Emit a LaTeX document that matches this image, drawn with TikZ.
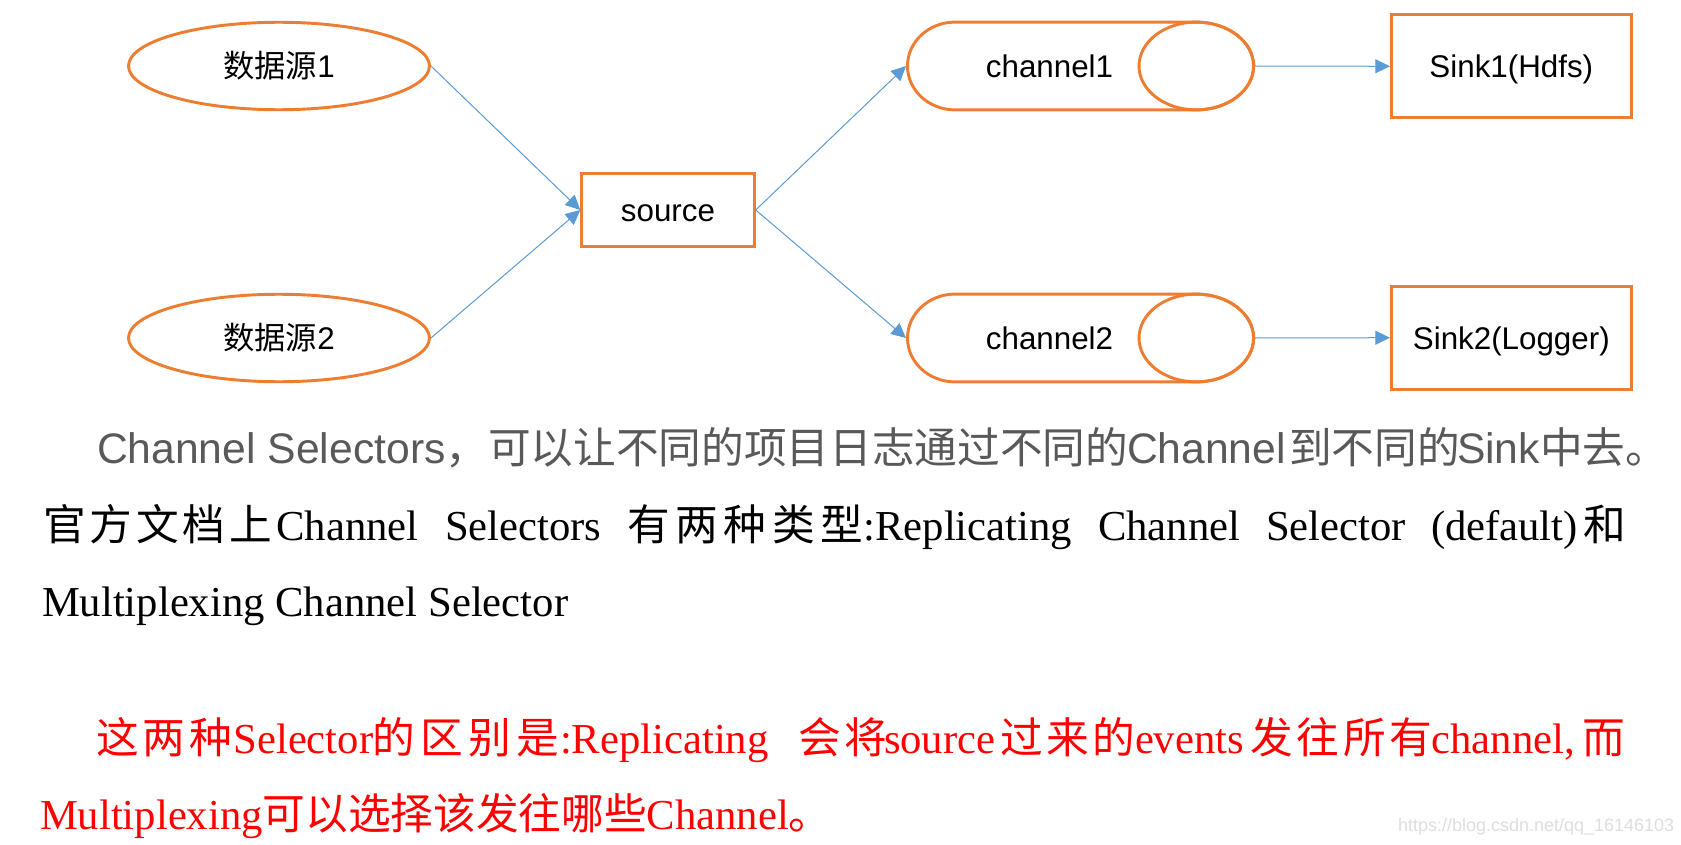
\documentclass[tikz,border=0pt]{standalone}
\usepackage{fontspec}
\setmainfont{Liberation Serif}
\newfontfamily\arial{Liberation Sans}
\newfontfamily\cjk{Noto Sans CJK SC}
\newfontfamily\cjkw[LetterSpace=9]{Noto Sans CJK SC}
\newfontfamily\cjkww[LetterSpace=13]{Noto Sans CJK SC}
\usetikzlibrary{shapes.geometric,arrows.meta}
\definecolor{orng}{HTML}{ED7D31}
\definecolor{arrblue}{HTML}{5B9BD5}
\definecolor{txtgray}{HTML}{595959}
\definecolor{wmgray}{HTML}{DEDEDE}
\newcommand{\diagfont}{\arial\fontsize{23.5pt}{28pt}\selectfont}
\newcommand{\grayfont}{\arial\fontsize{32pt}{36pt}\selectfont}
\newcommand{\serfont}{\rmfamily\fontsize{32pt}{36pt}\selectfont}
\tikzset{
  orangeline/.style={draw=orng, line width=2.2pt},
  diagtext/.style={font=\diagfont, text height=17.2pt, text depth=0pt},
  srcell/.style={orangeline, ellipse, inner sep=0pt, minimum width=225.75pt, minimum height=65.6pt, diagtext},
  boxnode/.style={orangeline, rectangle, inner sep=0pt, diagtext},
  sinkbox/.style={boxnode, minimum width=179.8pt, minimum height=77.25pt},
  chanarea/.style={rectangle, inner sep=0pt, outer sep=0pt, minimum width=261.75pt, minimum height=67.5pt},
  chantext/.style={inner sep=0pt, diagtext},
  flow/.style={draw=arrblue, line width=0.75pt, -{Triangle[length=11pt,width=10.5pt]}},
  seg/.style={anchor=base west, inner sep=0pt, outer sep=0pt},
  graytxt/.style={seg, font=\grayfont, text=txtgray},
  blacktxt/.style={seg, font=\serfont, text=black},
  redtxt/.style={seg, font=\serfont, text=red},
}
\begin{document}
\begin{tikzpicture}[x=0.75pt,y=-0.75pt]
\fill[white] (0,0) rectangle (1681,845);
\useasboundingbox (0,0) rectangle (1681,845);

% sources
\node[srcell] (e1) at (279,66) {{\cjk 数据源}1};
\node[srcell] (e2) at (279,338) {{\cjk 数据源}2};
\node[boxnode, minimum width=129.4pt, minimum height=55pt] (src) at (668,210) {source};

% channels
\node[chanarea] (c1) at (1080.5,66) {};
\node[chanarea] (c2) at (1080.5,338) {};
\foreach \cy in {66,338}{
  \draw[orangeline] (955,\cy+43.9) arc[start angle=90,end angle=270,x radius=47.5,y radius=43.9]
     -- (1196.3,\cy-43.9) arc[start angle=270,end angle=450,x radius=57.3,y radius=43.9] -- cycle;
  \draw[orangeline] (1196.3,\cy) ellipse[x radius=57.3, y radius=43.9];
}
\node[chantext] (c1t) at (1049.5,66) {channel1};
\node[chantext] (c2t) at (1049.5,338) {channel2};

% sinks
\node[sinkbox] (s1) at (1511.3,66.3) {Sink1(Hdfs)};
\node[sinkbox] (s2) at (1511.3,337.7) {Sink2(Logger)};

% connectors
\draw[flow] (e1.east) -- (src.west);
\draw[flow] (e2.east) -- (src.west);
\draw[flow] (src.east) -- (c1.west);
\draw[flow] (src.east) -- (c2.west);
\draw[flow] (c1.east) -- (s1.west);
\draw[flow] (c2.east) -- (s2.west);

% line 1
\node[graytxt] (l1a) at (97,463.3) {Channel Selectors{\cjk ，可以让不同的项目日志通过不同的}};
\node[graytxt] (l1b) at (1127,463.3) {Channel};
\node[graytxt] (l1c) at (1289,463.3) {\cjk 到不同的};
\node[graytxt] (l1d) at (1457,463.3) {Sink{\cjk 中去。}};

% line 2
\node[blacktxt] (l2a) at (43.5,540.7) {\cjkw 官方文档上};
\node[blacktxt] (l2b) at (276.5,540.7) {Channel};
\node[blacktxt] (l2c) at (445,540.7) {Selectors};
\node[blacktxt] (l2d) at (627.5,540.7) {\cjkww 有两种类型};
\node[blacktxt] (l2e) at (863.5,540.7) {:Replicating};
\node[blacktxt] (l2f) at (1098,540.7) {Channel};
\node[blacktxt] (l2g) at (1266,540.7) {Selector};
\node[blacktxt] (l2h) at (1431,540.7) {(default)};
\node[blacktxt] (l2i) at (1583,540.7) {\cjk 和};

% line 3
\node[blacktxt] (l3) at (42,616.7) {Multiplexing Channel Selector};

% line 4
\node[redtxt] (l4a) at (96.5,753.3) {\cjkw 这两种};
\node[redtxt] (l4b) at (233.5,753.3) {Selector};
\node[redtxt] (l4c) at (372,753.3) {\cjkww 的区别是};
\node[redtxt] (l4d) at (560,753.3) {:Replicating};
\node[redtxt] (l4e) at (798,753.3) {\cjkw 会将};
\node[redtxt] (l4f) at (884,753.3) {source};
\node[redtxt] (l4g) at (1000,753.3) {\cjkw 过来的};
\node[redtxt] (l4h) at (1135,753.3) {events};
\node[redtxt] (l4i) at (1250.5,753.3) {\cjkw 发往所有};
\node[redtxt] (l4j) at (1431.5,753.3) {channel,};
\node[redtxt] (l4k) at (1582,753.3) {\cjk 而};

% line 5
\node[redtxt] (l5) at (40,829) {Multiplexing{\cjk 可以选择该发往哪些}Channel{\cjk 。}};

% watermark
\node[seg, font=\arial\fontsize{13.5pt}{16pt}\selectfont, text=wmgray] (wm) at (1398,831) {https://blog.csdn.net/qq\_16146103};
\end{tikzpicture}
\end{document}
